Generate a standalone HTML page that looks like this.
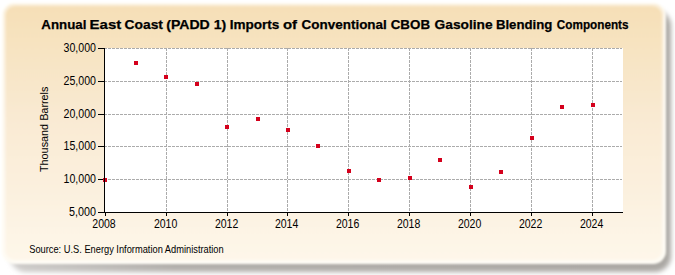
<!DOCTYPE html>
<html><head><meta charset="utf-8"><style>
html,body{margin:0;padding:0;background:#fff;width:675px;height:275px;overflow:hidden}
svg{display:block}
text{font-family:"Liberation Sans",sans-serif;fill:#000}
.g{stroke:#ababab;stroke-width:1;stroke-dasharray:3 1}
.ax{stroke:#000;stroke-width:1}
.yl{font-size:12.3px;text-anchor:end}
.xl{font-size:12px;text-anchor:middle}
.p{fill:#d4001c}
.tt{font-size:13.4px;font-weight:bold;stroke:#000;stroke-width:0.25px}
</style></head><body>
<svg width="675" height="275" viewBox="0 0 675 275">
<defs>
<linearGradient id="bg" x1="0" y1="0" x2="0" y2="1">
<stop offset="0" stop-color="#f6dfb6"/>
<stop offset="0.45" stop-color="#f9ead3"/>
<stop offset="1" stop-color="#fef7ea"/>
</linearGradient>
<linearGradient id="shg" x1="0" y1="0" x2="1" y2="0">
<stop offset="0" stop-color="#cfcdcb"/>
<stop offset="0.25" stop-color="#b2afab"/>
<stop offset="1" stop-color="#aaa7a3"/>
</linearGradient>
<filter id="sh" x="-5%" y="-10%" width="110%" height="120%"><feGaussianBlur stdDeviation="2.4"/></filter>
<filter id="soft" x="-1%" y="-2%" width="102%" height="104%"><feGaussianBlur stdDeviation="1.1"/></filter>
</defs>
<rect x="10" y="10" width="661" height="262" rx="16" fill="url(#shg)" filter="url(#sh)"/>
<g filter="url(#soft)">
<rect x="2.5" y="3" width="662.5" height="260" rx="12" fill="url(#bg)" stroke="#fffdf6" stroke-width="2"/>
<rect x="4.5" y="5" width="658.5" height="256" rx="10.5" fill="none" stroke="#fff" stroke-opacity="0.45" stroke-width="2.5"/>
</g>
<rect x="104" y="48" width="519" height="165" fill="#fff"/>
<text x="41.3" y="29" class="tt" textLength="45.09" lengthAdjust="spacingAndGlyphs">Annual</text>
<text x="89.6" y="29" class="tt" textLength="31.71" lengthAdjust="spacingAndGlyphs">East</text>
<text x="124.5" y="29" class="tt" textLength="38.46" lengthAdjust="spacingAndGlyphs">Coast</text>
<text x="166.2" y="29" class="tt" textLength="43.6" lengthAdjust="spacingAndGlyphs">(PADD</text>
<text x="213.7" y="29" class="tt" textLength="12.5" lengthAdjust="spacingAndGlyphs">1)</text>
<text x="229.69" y="29" class="tt" textLength="49.72" lengthAdjust="spacingAndGlyphs">Imports</text>
<text x="282.9" y="29" class="tt" textLength="14.09" lengthAdjust="spacingAndGlyphs">of</text>
<text x="301.5" y="29" class="tt" textLength="85.32" lengthAdjust="spacingAndGlyphs">Conventional</text>
<text x="390.7" y="29" class="tt" textLength="39.35" lengthAdjust="spacingAndGlyphs">CBOB</text>
<text x="434.6" y="29" class="tt" textLength="58.08" lengthAdjust="spacingAndGlyphs">Gasoline</text>
<text x="495.91" y="29" class="tt" textLength="56.46" lengthAdjust="spacingAndGlyphs">Blending</text>
<text x="556.8" y="29" class="tt" textLength="71.75" lengthAdjust="spacingAndGlyphs">Components</text>
<text transform="translate(48.4,129.3) rotate(-90)" style="font-size:11px;text-anchor:middle" textLength="85.5" lengthAdjust="spacingAndGlyphs">Thousand Barrels</text>
<text x="29.2" y="252.6" style="font-size:10.8px" textLength="194.5" lengthAdjust="spacingAndGlyphs">Source: U.S. Energy Information Administration</text>
<line x1="104" y1="179.5" x2="622" y2="179.5" class="g"/>
<line x1="104" y1="146.5" x2="622" y2="146.5" class="g"/>
<line x1="104" y1="114.5" x2="622" y2="114.5" class="g"/>
<line x1="104" y1="81.5" x2="622" y2="81.5" class="g"/>
<line x1="104" y1="48.5" x2="622" y2="48.5" class="g"/>
<line x1="166.5" y1="48" x2="166.5" y2="212" class="g"/>
<line x1="227.5" y1="48" x2="227.5" y2="212" class="g"/>
<line x1="287.5" y1="48" x2="287.5" y2="212" class="g"/>
<line x1="348.5" y1="48" x2="348.5" y2="212" class="g"/>
<line x1="409.5" y1="48" x2="409.5" y2="212" class="g"/>
<line x1="470.5" y1="48" x2="470.5" y2="212" class="g"/>
<line x1="531.5" y1="48" x2="531.5" y2="212" class="g"/>
<line x1="592.5" y1="48" x2="592.5" y2="212" class="g"/>
<line x1="98" y1="212.5" x2="623" y2="212.5" class="ax"/>
<line x1="98" y1="212.5" x2="104" y2="212.5" class="ax"/>
<text x="96" y="215.9" class="yl" textLength="27.0" lengthAdjust="spacingAndGlyphs">5,000</text>
<line x1="98" y1="179.5" x2="104" y2="179.5" class="ax"/>
<text x="96" y="182.9" class="yl" textLength="32.4" lengthAdjust="spacingAndGlyphs">10,000</text>
<line x1="98" y1="146.5" x2="104" y2="146.5" class="ax"/>
<text x="96" y="149.9" class="yl" textLength="32.4" lengthAdjust="spacingAndGlyphs">15,000</text>
<line x1="98" y1="114.5" x2="104" y2="114.5" class="ax"/>
<text x="96" y="117.9" class="yl" textLength="32.4" lengthAdjust="spacingAndGlyphs">20,000</text>
<line x1="98" y1="81.5" x2="104" y2="81.5" class="ax"/>
<text x="96" y="84.9" class="yl" textLength="32.4" lengthAdjust="spacingAndGlyphs">25,000</text>
<line x1="98" y1="48.5" x2="104" y2="48.5" class="ax"/>
<text x="96" y="51.9" class="yl" textLength="32.4" lengthAdjust="spacingAndGlyphs">30,000</text>
<line x1="105.5" y1="212" x2="105.5" y2="216" class="ax"/>
<text x="104.0" y="228.2" class="xl" textLength="23.4" lengthAdjust="spacingAndGlyphs">2008</text>
<line x1="166.5" y1="212" x2="166.5" y2="216" class="ax"/>
<text x="165.6" y="228.2" class="xl" textLength="23.4" lengthAdjust="spacingAndGlyphs">2010</text>
<line x1="227.5" y1="212" x2="227.5" y2="216" class="ax"/>
<text x="226.6" y="228.2" class="xl" textLength="23.4" lengthAdjust="spacingAndGlyphs">2012</text>
<line x1="287.5" y1="212" x2="287.5" y2="216" class="ax"/>
<text x="286.6" y="228.2" class="xl" textLength="23.4" lengthAdjust="spacingAndGlyphs">2014</text>
<line x1="348.5" y1="212" x2="348.5" y2="216" class="ax"/>
<text x="347.6" y="228.2" class="xl" textLength="23.4" lengthAdjust="spacingAndGlyphs">2016</text>
<line x1="409.5" y1="212" x2="409.5" y2="216" class="ax"/>
<text x="408.6" y="228.2" class="xl" textLength="23.4" lengthAdjust="spacingAndGlyphs">2018</text>
<line x1="470.5" y1="212" x2="470.5" y2="216" class="ax"/>
<text x="469.6" y="228.2" class="xl" textLength="23.4" lengthAdjust="spacingAndGlyphs">2020</text>
<line x1="531.5" y1="212" x2="531.5" y2="216" class="ax"/>
<text x="530.6" y="228.2" class="xl" textLength="23.4" lengthAdjust="spacingAndGlyphs">2022</text>
<line x1="592.5" y1="212" x2="592.5" y2="216" class="ax"/>
<text x="591.6" y="228.2" class="xl" textLength="23.4" lengthAdjust="spacingAndGlyphs">2024</text>
<rect x="103" y="178" width="4" height="4" class="p"/>
<rect x="134" y="61" width="4" height="4" class="p"/>
<rect x="164" y="75" width="4" height="4" class="p"/>
<rect x="195" y="82" width="4" height="4" class="p"/>
<rect x="225" y="125" width="4" height="4" class="p"/>
<rect x="256" y="117" width="4" height="4" class="p"/>
<rect x="286" y="128" width="4" height="4" class="p"/>
<rect x="316" y="144" width="4" height="4" class="p"/>
<rect x="347" y="169" width="4" height="4" class="p"/>
<rect x="377" y="178" width="4" height="4" class="p"/>
<rect x="408" y="176" width="4" height="4" class="p"/>
<rect x="438" y="158" width="4" height="4" class="p"/>
<rect x="469" y="185" width="4" height="4" class="p"/>
<rect x="499" y="170" width="4" height="4" class="p"/>
<rect x="530" y="136" width="4" height="4" class="p"/>
<rect x="560" y="105" width="4" height="4" class="p"/>
<rect x="591" y="103" width="4" height="4" class="p"/>
<line x1="104.5" y1="48" x2="104.5" y2="213" class="ax"/>
</svg>
</body></html>
